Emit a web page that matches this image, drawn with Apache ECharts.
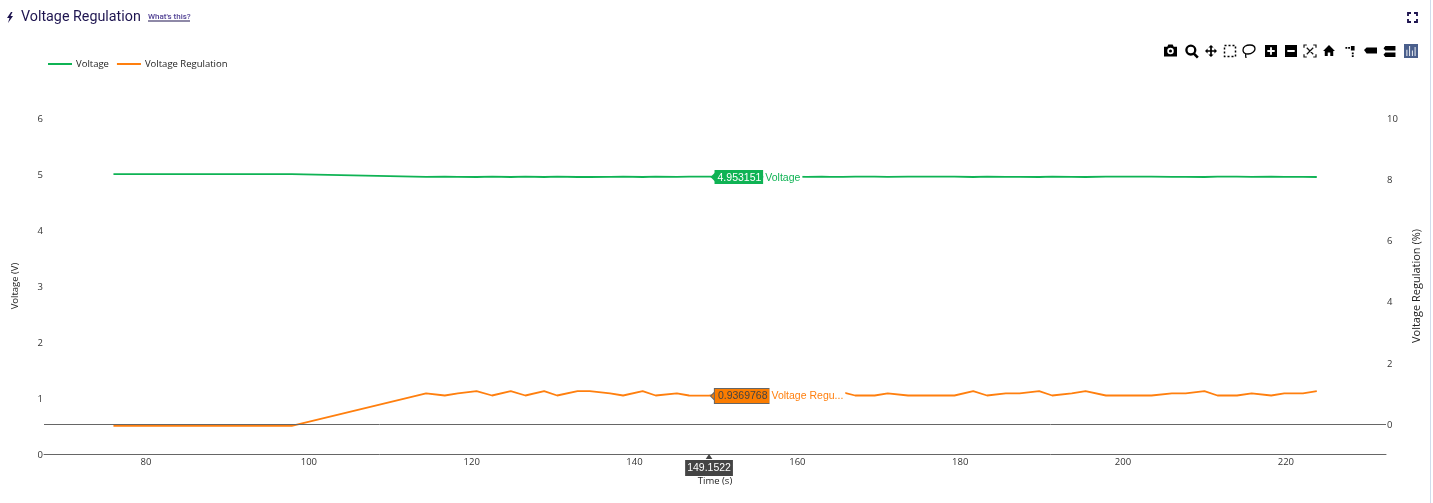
<!DOCTYPE html>
<html><head><meta charset="utf-8">
<style>html,body{margin:0;padding:0;background:#fff}#c{width:1433px;height:503px}</style>
<script src="https://cdn.jsdelivr.net/npm/echarts@6/dist/echarts.min.js"></script>
</head><body><div id="c"></div>
<script>
const timeValues = [76,97.9,114.4,116.7,118.3,120.6,122.5,124.8,126.6,128.9,130.5,133,134.5,137,138.6,141,142.6,145.2,146.7,149.1522,151,153.2,155,157.2,159,161.2,163,164,165.6,167.1,169.5,171.1,173.6,175.3,176.9,179.3,181.6,183.3,185.6,187.3,189.7,191.3,193.7,195.4,197.9,199.6,201.2,203.5,206,207.7,210,211.6,214,215.8,218.2,219.8,222.1,223.8];
const voltageValues = [4.998,4.998,4.9495,4.953,4.9495,4.946,4.953,4.946,4.953,4.946,4.953,4.946,4.946,4.9495,4.953,4.946,4.953,4.9495,4.953,4.953151,4.9495,4.953,4.9495,4.953,4.953,4.9495,4.953,4.9495,4.948,4.953,4.953,4.9495,4.953,4.953,4.953,4.953,4.946,4.953,4.9495,4.9495,4.946,4.953,4.9495,4.946,4.953,4.953,4.953,4.953,4.9495,4.9495,4.946,4.953,4.953,4.9495,4.953,4.9495,4.9495,4.946];
const regulationValues = [-0.055,-0.055,1.01,0.94,1.01,1.08,0.94,1.08,0.94,1.08,0.94,1.08,1.08,1.01,0.94,1.08,0.94,1.01,0.94,0.9369768,1.01,0.94,1.01,0.94,0.94,1.01,0.94,1.01,1.04,0.94,0.94,1.01,0.94,0.94,0.94,0.94,1.08,0.94,1.01,1.01,1.08,0.94,1.01,1.08,0.94,0.94,0.94,0.94,1.01,1.01,1.08,0.94,0.94,1.01,0.94,1.01,1.01,1.08];
const xTickLabels = [80,100,120,140,160,180,200,220];
const leftTickLabels = [0,1,2,3,4,5,6];
const rightTickLabels = [0,2,4,6,8,10];
const hoverTime = 149.1522;
const hoverVoltage = 4.953151;
const hoverRegulation = 0.9369768;

const GREEN='#0fb354', ORANGE='#ff7f0e', NAVY='#1e1550', TICK='#333';
const pair = (xs,ys)=>xs.map((x,i)=>[x,ys[i]]);
let iconCount=0;
const icon=(d,x,y,w,h,style)=>{
  const name='icon'+(iconCount++);
  const Cls=echarts.graphic.extendPath(d,{});
  echarts.graphic.registerShape(name,Cls);
  const r=new Cls().getBoundingRect();
  const s=Math.min(w/r.width,h/r.height);
  return {type:name,silent:true,x:x+(w-r.width*s)/2-r.x*s,y:y+(h-r.height*s)/2-r.y*s,scaleX:s,scaleY:s,style:Object.assign({fill:'#000'},style||{})};
};
const strokeStyle=(c,w)=>({fill:'none',stroke:c||'#000',lineWidth:w||1});

const graphicEls=[
 {type:'rect',silent:true,shape:{x:1430,y:0,width:1,height:503},style:{fill:'#cfdcec'}},
 icon('M4 0L0 6h2.5L1 11l5-7H3.5L5.5 0z',7,12,6,11,{fill:NAVY}),
 {type:'text',silent:true,x:21,y:17.5,style:{text:'Voltage Regulation',font:'14.3px Roboto',fill:NAVY,textVerticalAlign:'middle'}},
 {type:'text',silent:true,x:148,y:16.5,style:{text:"What's this?",font:'500 8px Roboto',fill:'#4f3f93',textVerticalAlign:'middle'}},
 {type:'rect',silent:true,shape:{x:148,y:20.5,width:42,height:1},style:{fill:NAVY}},
 icon('M0 4V0h4 M8 0h4v4 M12 8v4H8 M4 12H0V8',1408,13,9,9,strokeStyle(NAVY,2.5)),
 icon('M1 4h3l1-2h4l1 2h3v9H1z M7 5a3 3 0 1 0 .01 0z M7 6.6a1.4 1.4 0 1 1-.01 0z',1164,44,13,13),
 icon('M6 0a6 6 0 1 1-.01 0z M6 2.5a3.5 3.5 0 1 0 .01 0z M9.5 8l5 5-2 2-5-5z',1185,44.5,14,14),
 icon('M7 0l3 3H8v3h3V4l3 3-3 3V8H8v3h2l-3 3-3-3h2V8H3v2L0 7l3-3v2h3V3H4z',1205,45,12,12),
 {type:'rect',silent:true,shape:{x:1224.5,y:45.5,width:11,height:11},style:{fill:'none',stroke:'#000',lineWidth:1.5,lineDash:[2,2]}},
 icon('M1 6c0-3 3-5 7-5s5 2 5 4-3 5-7 5-5-2-5-4z M4 10c-1 1 0 3 0 4',1243,45,12,13,strokeStyle('#000',1.3)),
 icon('M0 0h13v13H0z M2.5 5.5v2h3v3h2v-3h3v-2h-3v-3h-2v3z',1265,45,12,12),
 icon('M0 0h13v13H0z M2.5 5.5v2h8v-2z',1285,45,12,12),
 icon('M0 3V0h3 M10 0h3v3 M13 10v3h-3 M3 13H0v-3 M3 3l7 7 M10 3l-7 7',1304,45,12,12,strokeStyle('#111',1.3)),
 icon('M7 0l7 7h-2v6H8.5V9h-3v4H2V7H0z',1323,45,12,11),
 icon('M0 1h2v2H0z M3 1h2v2H3z M6 0h4v5H6z M7 7h2v2H7z M7 10h2v2H7z',1345,46,10,11),
 icon('M0 4l3-3h12v7H3z',1364,47,13,7),
 icon('M2 0h11v5H2l-2-2.5z M2 7h11v5H2l-2-2.5z',1383,46,13,11),
 {type:'rect',silent:true,shape:{x:1404,y:44,width:14,height:14},style:{fill:'#4a5f8c'}},
 icon('M0 4h1v7H0z M3 0h1v11H3z M6 5h1v6H6z M9 1h1v10H9z',1406,46,10,10,{fill:'#fff'})
];

const hoverLabel=(coord,text,name,extra)=>({
  coord, symbol:'triangle', symbolRotate:90, symbolSize:[10,5], symbolOffset:[4,0.5],
  itemStyle:{color:extra.bg,borderColor:extra.border||extra.bg,borderWidth:extra.border?1:0},
  label:{show:true,position:'right',distance:-1,formatter:'{v|'+text+'}{n|'+name+'}',
    rich:{v:{backgroundColor:extra.bg,borderColor:extra.border||extra.bg,borderWidth:extra.border?1:0,color:extra.fg,fontFamily:'Liberation Sans',fontSize:10.5,padding:[2,2,1,3],height:11},
          n:{backgroundColor:'#fff',color:extra.line,fontFamily:'Liberation Sans',fontSize:10.5,padding:[3,2,2,2],height:11}}}
});

const chart=echarts.init(document.getElementById('c'),null,{renderer:'canvas'});
const shiftedTick={t:{fontFamily:'Open Sans',fontSize:9.5,color:TICK,height:11,padding:[2,0,0,0]}};
chart.setOption({
 animation:false,
 backgroundColor:'#fff',
 textStyle:{fontFamily:'Open Sans'},
 grid:{left:44,right:47,top:118,bottom:49,containLabel:false},
 legend:{left:48,top:59,itemWidth:24,itemHeight:2,itemGap:8,icon:'rect',padding:0,
   data:['Voltage','Voltage Regulation'],selectedMode:false,
   textStyle:{fontFamily:'Open Sans',fontSize:9.5,color:'#222',padding:[0,0,0,-1]}},
 xAxis:{type:'value',min:67.47,max:232.3,name:'Time (s)',nameLocation:'middle',nameGap:22,
   nameTextStyle:{fontFamily:'Open Sans',fontSize:9.5,color:'#222'},
   axisLine:{show:true,onZero:false,lineStyle:{color:'#666',width:1}},axisTick:{show:false},splitLine:{show:false},
   axisLabel:{customValues:xTickLabels,fontFamily:'Open Sans',fontSize:9.5,color:TICK,margin:3}},
 yAxis:[
  {type:'value',min:0,max:6,interval:1,position:'left',name:'Voltage (V)',nameLocation:'middle',nameGap:24,
   nameTextStyle:{fontFamily:'Open Sans',fontSize:9.5,color:'#222'},
   axisLine:{show:false},axisTick:{show:false},splitLine:{show:false},
   axisLabel:{customValues:leftTickLabels,formatter:'{t|{value}}',rich:shiftedTick,margin:1}},
  {type:'value',min:-0.97,max:10,position:'right',name:'Voltage Regulation (%)',nameLocation:'middle',nameGap:25,
   nameTextStyle:{fontFamily:'Open Sans',fontSize:11,color:'#222'},
   axisLine:{show:false},axisTick:{show:false},splitLine:{show:false},
   axisLabel:{customValues:rightTickLabels,formatter:'{t|{value}}',rich:shiftedTick,margin:1}}
 ],
 series:[
  {name:'Voltage',type:'line',yAxisIndex:0,showSymbol:false,symbol:'none',smooth:false,z:3,
   data:pair(timeValues,voltageValues),lineStyle:{color:GREEN,width:1.8},itemStyle:{color:GREEN},
   markPoint:{silent:true,animation:false,data:[
     hoverLabel([hoverTime,hoverVoltage],hoverVoltage.toFixed(6),'Voltage',{bg:GREEN,fg:'#fff',line:GREEN}),
     {coord:[hoverTime,0],symbol:'triangle',symbolSize:[8,6],symbolOffset:[0,3],itemStyle:{color:'#444'},
      label:{show:true,position:'bottom',distance:0,formatter:String(hoverTime),color:'#fff',fontFamily:'Liberation Sans',fontSize:10.5,backgroundColor:'#444',borderColor:'#fff',borderWidth:1,padding:[3,2,2,2]}}
   ]}},
  {name:'Voltage Regulation',type:'line',yAxisIndex:1,showSymbol:false,symbol:'none',smooth:false,z:3,
   data:pair(timeValues,regulationValues),lineStyle:{color:ORANGE,width:1.8},itemStyle:{color:ORANGE},
   markLine:{silent:true,animation:false,symbol:'none',label:{show:false},lineStyle:{color:'#666',width:1,type:'solid'},data:[{yAxis:0}]},
   markPoint:{silent:true,animation:false,data:[
     hoverLabel([hoverTime,hoverRegulation],String(hoverRegulation),'Voltage Regu...',{bg:'#fb7c00',fg:'#444',line:ORANGE,border:'#666'})
   ]}}
 ],
 graphic:{elements:graphicEls}
});
</script></body></html>
